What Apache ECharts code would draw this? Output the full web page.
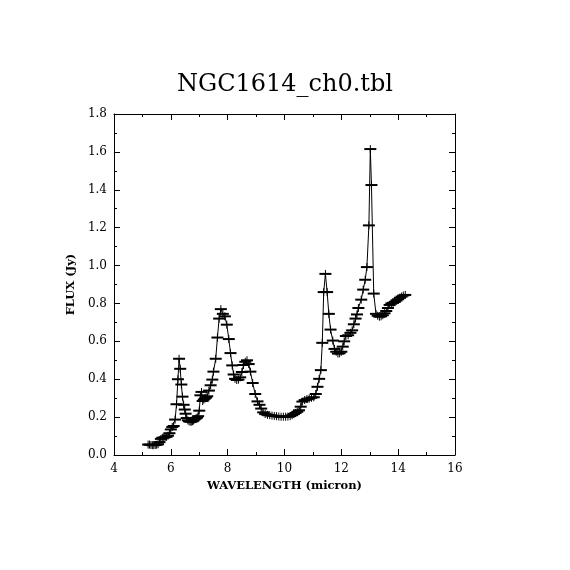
<!DOCTYPE html>
<html lang="en">
  <head>
    <meta charset="UTF-8" />
    <title>NGC1614_ch0.tbl</title>
    <style>
      html, body { margin: 0; padding: 0; background: #fff; }
    </style>
  </head>
  <body>
    <div id="spec" style="width: 570px; height: 570px"></div>
    <script src="https://cdn.jsdelivr.net/npm/echarts@6/dist/echarts.min.js"></script>
    <script>
      // wavelength (micron) and flux (Jy)
      var wavelength = [
        5.20, 5.25, 5.30, 5.35, 5.40, 5.45, 5.50, 5.55, 5.60, 5.65,
        5.70, 5.75, 5.80, 5.85, 5.90, 5.95, 6.00, 6.05, 6.10, 6.15,
        6.20, 6.25, 6.29, 6.33, 6.37, 6.41, 6.45, 6.49, 6.52, 6.56,
        6.60, 6.64, 6.68, 6.72, 6.76, 6.80, 6.84, 6.88, 6.92, 6.96,
        7.00, 7.04, 7.08, 7.12, 7.16, 7.20, 7.24, 7.28, 7.34, 7.40,
        7.46, 7.50, 7.58, 7.64, 7.70, 7.76, 7.83, 7.90, 7.97, 8.04,
        8.10, 8.16, 8.21, 8.26, 8.32, 8.38, 8.44, 8.50, 8.56, 8.62,
        8.68, 8.74, 8.80, 8.88, 8.97, 9.05, 9.12, 9.18, 9.25, 9.32,
        9.40, 9.48, 9.56, 9.64, 9.72, 9.80, 9.88, 9.96, 10.04, 10.12,
        10.20, 10.27, 10.33, 10.39, 10.45, 10.51, 10.57, 10.63, 10.71, 10.79,
        10.87, 10.95, 11.03, 11.10, 11.16, 11.22, 11.28, 11.33, 11.38, 11.44,
        11.50, 11.56, 11.62, 11.70, 11.76, 11.82, 11.88, 11.94, 12.00, 12.05,
        12.10, 12.16, 12.24, 12.32, 12.38, 12.44, 12.50, 12.55, 12.60, 12.70,
        12.77, 12.84, 12.90, 12.97, 13.02, 13.06, 13.14, 13.22, 13.28, 13.34,
        13.40, 13.46, 13.52, 13.58, 13.64, 13.70, 13.76, 13.82, 13.88, 13.94,
        14.00, 14.06, 14.12, 14.18, 14.25
      ];
      var flux = [
        0.055, 0.055, 0.053, 0.052, 0.052, 0.053, 0.054, 0.057, 0.068, 0.085,
        0.091, 0.092, 0.094, 0.096, 0.102, 0.115, 0.135, 0.148, 0.153, 0.187,
        0.268, 0.400, 0.508, 0.455, 0.372, 0.308, 0.265, 0.240, 0.218, 0.195,
        0.183, 0.178, 0.176, 0.176, 0.178, 0.182, 0.188, 0.193, 0.197, 0.205,
        0.234, 0.315, 0.333, 0.285, 0.293, 0.298, 0.303, 0.310, 0.340, 0.368,
        0.398, 0.440, 0.508, 0.620, 0.720, 0.770, 0.745, 0.732, 0.688, 0.612,
        0.538, 0.473, 0.425, 0.402, 0.396, 0.398, 0.410, 0.438, 0.475, 0.492,
        0.500, 0.480, 0.440, 0.380, 0.322, 0.283, 0.265, 0.245, 0.225, 0.216,
        0.212, 0.210, 0.208, 0.206, 0.205, 0.203, 0.202, 0.202, 0.202, 0.203,
        0.205, 0.210, 0.216, 0.222, 0.228, 0.236, 0.255, 0.282, 0.290, 0.295,
        0.298, 0.302, 0.305, 0.322, 0.360, 0.402, 0.448, 0.592, 0.860, 0.956,
        0.860, 0.745, 0.662, 0.604, 0.560, 0.545, 0.535, 0.537, 0.545, 0.572,
        0.600, 0.628, 0.632, 0.645, 0.658, 0.690, 0.720, 0.742, 0.776, 0.820,
        0.873, 0.925, 0.992, 1.212, 1.615, 1.425, 0.852, 0.745, 0.735, 0.730,
        0.732, 0.738, 0.748, 0.760, 0.776, 0.792, 0.800, 0.803, 0.808, 0.815,
        0.822, 0.830, 0.836, 0.842, 0.845
      ];
      var xTicks = [4, 6, 8, 10, 12, 14, 16];

      var points = [];
      for (var i = 0; i < wavelength.length; i++) {
        points.push([wavelength[i], flux[i]]);
      }

      var chart = echarts.init(document.getElementById("spec"));
      var font = "DejaVu Serif";

      function boxAxis(extra) {
        var a = {
          axisLine: { show: true, onZero: false, lineStyle: { color: "#000", width: 1 } },
          axisTick: { show: true, inside: true, length: 6, lineStyle: { color: "#000" } },
          minorTick: { show: true, splitNumber: 2, length: 3, lineStyle: { color: "#000" } },
          splitLine: { show: false },
        };
        for (var k in extra) a[k] = extra[k];
        return a;
      }

      var option = {
        backgroundColor: "#fff",
        animation: false,
        title: {
          text: "NGC1614_ch0.tbl",
          left: "center",
          top: 68,
          textStyle: { fontFamily: font, fontSize: 24, fontWeight: "normal", color: "#000" },
        },
        grid: { left: 114, right: 115, top: 114, bottom: 115 },
        xAxis: [
          boxAxis({
            type: "value", min: 4, max: 16, interval: 2,
            name: "WAVELENGTH (micron)", nameLocation: "middle", nameGap: 24,
            nameTextStyle: { fontFamily: font, fontSize: 11.5, fontWeight: "bold", color: "#000" },
            axisLabel: {
              margin: 8, color: "#000", fontFamily: font, fontSize: 12,
              formatter: function (v) { return xTicks.indexOf(v) >= 0 ? String(v) : ""; },
            },
          }),
          boxAxis({ type: "value", position: "top", min: 4, max: 16, interval: 2, axisLabel: { show: false } }),
        ],
        yAxis: [
          boxAxis({
            type: "value", min: 0, max: 1.8, interval: 0.2,
            name: "FLUX (Jy)", nameLocation: "middle", nameGap: 36,
            nameTextStyle: { fontFamily: font, fontSize: 11.5, fontWeight: "bold", color: "#000" },
            axisLabel: {
              margin: 7, color: "#000", fontFamily: font, fontSize: 12,
              formatter: function (v) { return v.toFixed(1); },
            },
          }),
          boxAxis({ type: "value", position: "right", min: 0, max: 1.8, interval: 0.2, axisLabel: { show: false } }),
        ],
        series: [
          {
            type: "line",
            data: points,
            symbol: "none",
            lineStyle: { color: "#000", width: 1 },
            z: 2,
          },
          {
            // plus-shaped markers at every sample
            type: "custom",
            data: points,
            renderItem: function (params, api) {
              var p = api.coord([api.value(0), api.value(1)]);
              return {
                type: "group",
                children: [
                  {
                    type: "line",
                    shape: { x1: p[0] - 6, y1: p[1], x2: p[0] + 6, y2: p[1] },
                    style: { stroke: "#000", lineWidth: 2 },
                  },
                  {
                    type: "line",
                    shape: { x1: p[0], y1: p[1] - 4, x2: p[0], y2: p[1] + 4 },
                    style: { stroke: "#000", lineWidth: 1 },
                  },
                ],
              };
            },
            z: 3,
          },
        ],
      };
      chart.setOption(option);
    </script>
  </body>
</html>
